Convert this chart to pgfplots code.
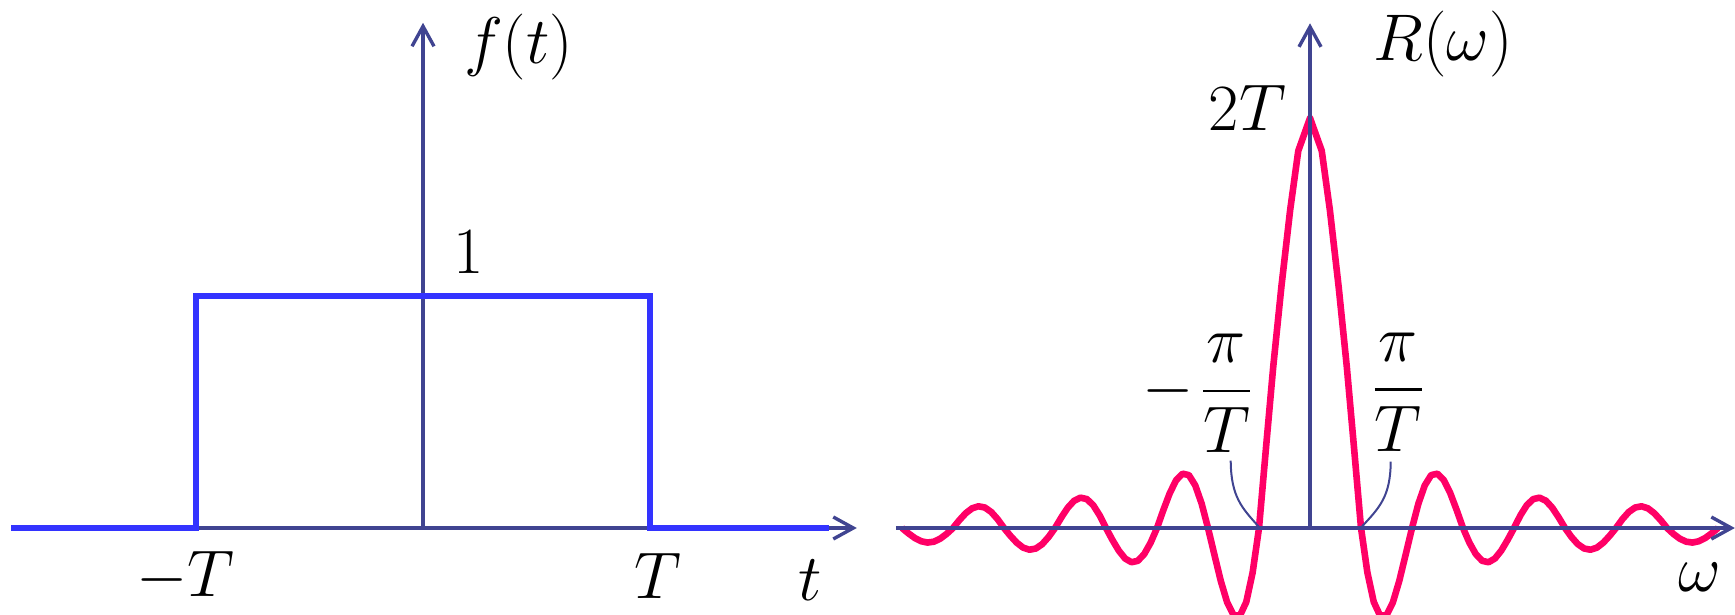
\documentclass[border=0pt]{standalone}
\usepackage{amsmath}
\usepackage{pgfplots}
\pgfplotsset{compat=1.18}
\usetikzlibrary{arrows.meta}
\definecolor{axnavy}{RGB}{64,68,145}
\definecolor{pulseblue}{RGB}{51,51,255}
\definecolor{sincred}{RGB}{255,0,102}

\pgfplotsset{
  sketch/.style={
    axis lines=middle, xtick=\empty, ytick=\empty,
    enlargelimits=false, clip=false, anchor=south west,
    axis line style={draw=axnavy, line width=0.85pt},
    every inner x axis line/.append style={-{Straight Barb[length=5pt,width=5.5pt]}},
    every inner y axis line/.append style={-{Straight Barb[length=5pt,width=5.5pt]}},
  }
}

\begin{document}
\begin{tikzpicture}[every node/.style={font=\LARGE, scale=0.955, inner sep=0pt}]

% left: rectangular pulse
\begin{axis}[sketch, axis on top=false,
  at={(2.75pt,21.5pt)}, x=56.75pt, y=58.125pt,
  xmin=-1.815, xmax=1.911, ymin=0, ymax=2.173]
\addplot[pulseblue, line width=1.5pt, line join=miter] coordinates {
  (-1.815,0) (-1,0) (-1,1) (1,1) (1,0) (1.79,0)};
\end{axis}

% right: sinc
\begin{axis}[sketch, axis on top=true,
  at={(223.97pt,21.5pt)}, x=12.75pt, y=51.25pt,
  xmin=-8.12, xmax=8.33, ymin=0, ymax=2.462]
\addplot[sincred, line width=1.65pt, line join=round] coordinates {
  (-8,0) (-7.875,-0.0259) (-7.75,-0.0486) (-7.625,-0.0645) (-7.5,-0.071)
  (-7.375,-0.0667) (-7.25,-0.0519) (-7.125,-0.0286)
  (-7,0) (-6.875,0.0384) (-6.75,0.0722) (-6.625,0.0961) (-6.5,0.106)
  (-6.375,0.0999) (-6.25,0.078) (-6.125,0.043)
  (-6,0) (-5.875,-0.038) (-5.75,-0.0717) (-5.625,-0.0958) (-5.5,-0.106)
  (-5.375,-0.100) (-5.25,-0.0785) (-5.125,-0.0435)
  (-5,0) (-4.875,0.052) (-4.75,0.099) (-4.625,0.133) (-4.5,0.148)
  (-4.375,0.141) (-4.25,0.111) (-4.125,0.0618)
  (-4,0) (-3.875,-0.058) (-3.75,-0.110) (-3.625,-0.149) (-3.5,-0.167)
  (-3.375,-0.160) (-3.25,-0.127) (-3.125,-0.0716)
  (-3,0) (-2.875,0.088) (-2.75,0.170) (-2.625,0.233) (-2.5,0.265)
  (-2.375,0.258) (-2.25,0.208) (-2.125,0.119)
  (-2,0) (-1.875,-0.130) (-1.75,-0.258) (-1.625,-0.3625) (-1.5,-0.425)
  (-1.375,-0.428) (-1.25,-0.361) (-1.125,-0.217)
  (-1,0) (-0.86,0.40) (-0.72,0.79) (-0.56,1.18) (-0.39,1.55) (-0.23,1.84)
  (0,2.0)
  (0.23,1.84) (0.39,1.55) (0.56,1.18) (0.72,0.79) (0.86,0.40) (1,0)
  (1.125,-0.217) (1.25,-0.361) (1.375,-0.428) (1.5,-0.425)
  (1.625,-0.3625) (1.75,-0.258) (1.875,-0.130) (2,0)
  (2.125,0.119) (2.25,0.208) (2.375,0.258) (2.5,0.265)
  (2.625,0.233) (2.75,0.170) (2.875,0.088) (3,0)
  (3.125,-0.0716) (3.25,-0.127) (3.375,-0.160) (3.5,-0.167)
  (3.625,-0.149) (3.75,-0.110) (3.875,-0.058) (4,0)
  (4.125,0.0618) (4.25,0.111) (4.375,0.141) (4.5,0.148)
  (4.625,0.133) (4.75,0.099) (4.875,0.052) (5,0)
  (5.125,-0.0435) (5.25,-0.0785) (5.375,-0.100) (5.5,-0.106)
  (5.625,-0.0958) (5.75,-0.0717) (5.875,-0.038) (6,0)
  (6.125,0.043) (6.25,0.078) (6.375,0.0999) (6.5,0.106)
  (6.625,0.0961) (6.75,0.0722) (6.875,0.0384) (7,0)
  (7.125,-0.0286) (7.25,-0.0519) (7.375,-0.0667) (7.5,-0.071)
  (7.625,-0.0645) (7.75,-0.0486) (7.875,-0.0259) (8,0)};
\end{axis}

% labels, in pixel coordinates of the reference (y downwards)
\begin{scope}[x=0.25pt, y=-0.25pt, yshift=153.5pt]
  \node[anchor=base] at (518.5,63) {$f(t)$};
  \node[anchor=base] at (468.7,273.3) {$1$};
  \node[anchor=base] at (185.4,596.7) {$-T$};
  \node[anchor=base] at (657.5,598) {$T$};
  \node[anchor=base] at (810,600) {$t$};

  \node[anchor=base] at (1443,60) {$R(\omega)$};
  \node[anchor=base] at (1247.5,130) {$2T$};
  \node[anchor=base] at (1168,407.4) {$-$};
  \node[anchor=base] at (1226.5,407.4) {$\dfrac{\pi}{T}$};
  \node[anchor=base] at (1398.3,406) {$\dfrac{\pi}{T}$};
  \node[anchor=base] at (1700,591.7) {$\omega$};

  \draw[axnavy, line width=0.5pt] (1230.7,460.7) .. controls (1231,497) and (1242,508) .. (1259,527);
  \draw[axnavy, line width=0.5pt] (1390.7,461.7) .. controls (1390.5,497) and (1379,508) .. (1361.5,527);
\end{scope}

\pgfresetboundingbox
\path[use as bounding box] (0,0) rectangle (433.75pt,153.5pt);
\end{tikzpicture}
\end{document}
